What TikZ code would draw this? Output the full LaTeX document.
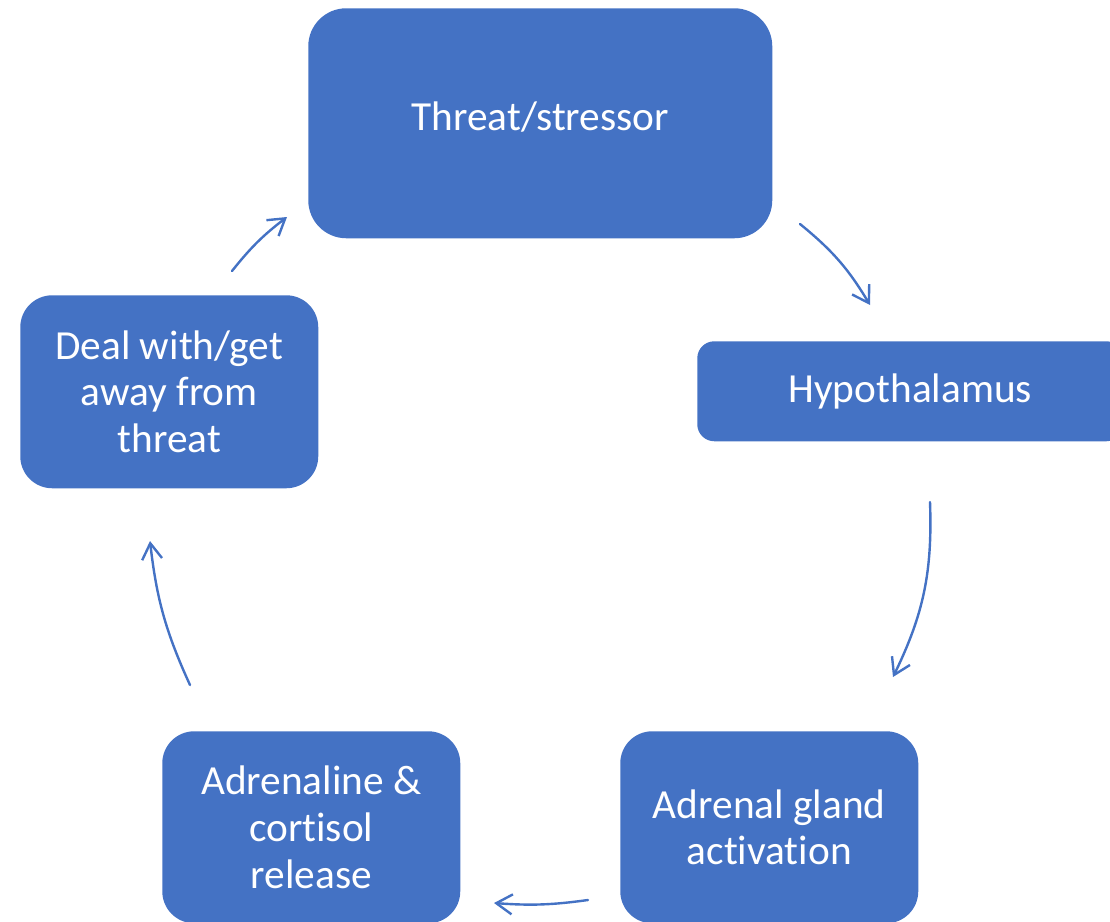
\documentclass[tikz,border=0pt]{standalone}
\usepackage{fontspec}
\setmainfont{Carlito}[Ligatures=NoCommon]
\usetikzlibrary{arrows.meta}
\definecolor{boxblue}{HTML}{4472C4}
\tikzset{
  stage/.style={fill=boxblue, draw=none, text=white, align=center, anchor=north west,
    inner sep=0pt, font=\fontsize{31}{35}\selectfont},
  flow/.style={draw=boxblue, line width=1.8pt, line cap=round,
    -{Straight Barb[length=12pt,width=15pt]}},
}

\begin{document}
\begin{tikzpicture}[x=0.75pt,y=0.75pt]
  \clip (0,0) rectangle (1110,-921);

  % boxes of the cycle
  \node[stage, rounded corners=28.5pt, minimum width=348pt, minimum height=172.5pt,
    text depth=10pt] (threat) at (308,-8) {Threat/stressor};
  \node[stage, rounded corners=12.75pt, minimum width=319.5pt, minimum height=75pt]
    (hypo) at (697,-341) {Hypothalamus};
  \node[stage, rounded corners=24pt, minimum width=223.5pt, minimum height=144pt]
    (gland) at (620,-731) {Adrenal gland\\activation};
  \node[stage, rounded corners=24pt, minimum width=223.5pt, minimum height=144pt]
    (release) at (162,-731) {Adrenaline \&\\cortisol\\release};
  \node[stage, rounded corners=24pt, minimum width=223.5pt, minimum height=144.75pt]
    (deal) at (20,-295) {Deal with/get\\away from\\threat};

  % arrow ends
  \coordinate (a1) at (800,-224);
  \coordinate (b1) at (870,-305);
  \coordinate (a2) at (930,-502);
  \coordinate (b2) at (893,-677);
  \coordinate (a3) at (588,-900);
  \coordinate (b3) at (494,-903);
  \coordinate (a4) at (190,-685);
  \coordinate (b4) at (150,-541);
  \coordinate (a5) at (232,-271);
  \coordinate (b5) at (287,-217);

  \draw[flow] (a1) to[bend left=10] (b1);
  \draw[flow] (a2) to[bend left=14] (b2);
  \draw[flow] (a3) to[bend left=6] (b3);
  \draw[flow] (a4) to[bend left=9] (b4);
  \draw[flow] (a5) to[bend left=7] (b5);
\end{tikzpicture}
\end{document}
